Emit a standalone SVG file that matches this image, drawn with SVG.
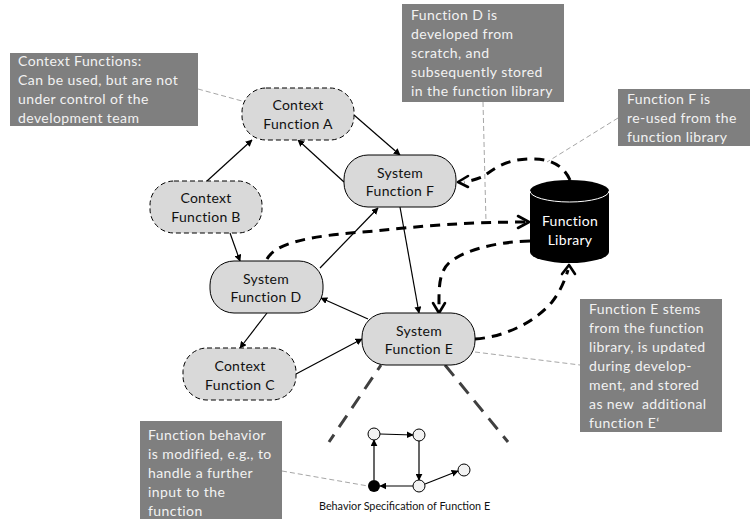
<svg xmlns="http://www.w3.org/2000/svg" width="750" height="519" viewBox="0 0 750 519">
<style>
text{font-family:Lato,"Liberation Sans",sans-serif}
.n text{font-size:14px;fill:#111;text-anchor:middle;letter-spacing:.3px}
.c rect{fill:#7f7f7f}
.c text{font-size:14px;fill:#f2f2f2;letter-spacing:.42px}
.ctx{fill:#d9d9d9;stroke:#000;stroke-width:1;stroke-dasharray:5 3}
.sys{fill:#d9d9d9;stroke:#000;stroke-width:1}
.a{fill:none;stroke:#000;stroke-width:1.2;marker-end:url(#tri)}
.d{fill:none;stroke:#000;stroke-width:3;stroke-dasharray:10 7}
.o{fill:none;stroke:#000;stroke-width:2.6;stroke-linecap:round;stroke-linejoin:round}
.g{fill:none;stroke:#a6a6a6;stroke-width:1;stroke-dasharray:5 3}
.k{fill:none;stroke:#404040;stroke-width:3;stroke-dasharray:14 9}
.s{fill:#f2f2f2;stroke:#000;stroke-width:1}
</style>
<defs>
<marker id="tri" viewBox="0 0 10 10" refX="9" refY="5" markerWidth="7" markerHeight="7" markerUnits="userSpaceOnUse" orient="auto"><path d="M0 0L10 5L0 10z" fill="#000"/></marker>
</defs>
<g id="connectors">
<path class="g" d="M198 89L242 101M483 102L486 222M618 118L547 162M475 352L580 365M282 471L368 486"/>
<path class="a" d="M354 115L400 155"/>
<path class="a" d="M207 181L252 140"/>
<path class="a" d="M344 182L298 140"/>
<path class="a" d="M230 233L240 261"/>
<path class="a" d="M320 268L378 208"/>
<path class="a" d="M267 313L240 348"/>
<path class="a" d="M368 319L321 298"/>
<path class="a" d="M296 374L362 339"/>
<path class="a" d="M400 207L419 313"/>
<path class="d" d="M570 180C562 162 545 158 528 159C505 160 495 168 484 176Q476 180 464 182"/>
<path class="o" d="M468 176L458 182L468 187"/>
<path class="d" d="M267 259C275 245 300 236 375 231C420 226 470 222 525 222"/>
<path class="o" d="M518 216L529 222L518 228"/>
<path class="d" d="M530 241C495 242 465 250 450 262C438 272 439 290 439 309"/>
<path class="o" d="M433 303L439 313L445 303"/>
<path class="d" d="M475 339C505 337 535 322 552 302C560 292 565 280 568 270"/>
<path class="o" d="M562 274L569 265L575 274"/>
<path class="k" stroke-dashoffset="8" d="M381 365L329 442"/>
<path class="k" d="M445 365L508 442"/>
<path class="a" d="M380 434L413 435"/>
<path class="a" d="M419 441L419 480"/>
<path class="a" d="M413 486L380 486"/>
<path class="a" d="M374 480L374 440"/>
<path class="a" d="M425 484L458 471"/>
</g>
<g id="context-a" class="n"><rect class="ctx" x="242" y="88" width="112" height="52" rx="24"/><text x="298" y="110">Context</text><text x="298" y="129">Function A</text></g>
<g id="context-b" class="n"><rect class="ctx" x="150" y="181" width="112" height="52" rx="24"/><text x="206" y="203">Context</text><text x="206" y="222">Function B</text></g>
<g id="context-c" class="n"><rect class="ctx" x="183" y="348" width="113" height="52" rx="24"/><text x="240" y="371">Context</text><text x="240" y="390">Function C</text></g>
<g id="system-f" class="n"><rect class="sys" x="344" y="155" width="112" height="52" rx="24"/><text x="400" y="178">System</text><text x="400" y="196">Function F</text></g>
<g id="system-d" class="n"><rect class="sys" x="210" y="261" width="113" height="52" rx="24"/><text x="266" y="284">System</text><text x="266" y="302">Function D</text></g>
<g id="system-e" class="n"><rect class="sys" x="362" y="313" width="113" height="52" rx="24"/><text x="419" y="336">System</text><text x="419" y="354">Function E</text></g>
<g id="library"><path d="M530 191V252A39.500 11 0 0 0 609 252V191A39.500 11 0 0 0 530 191Z" fill="#000"/><path d="M530 191A39.500 11 0 0 0 609 191" fill="none" stroke="#fff" stroke-width="1"/><text x="570" y="226" font-size="14" fill="#fff" text-anchor="middle" letter-spacing=".3">Function</text><text x="570" y="245" font-size="14" fill="#fff" text-anchor="middle" letter-spacing=".3">Library</text></g>
<g id="note-context" class="c"><rect x="10" y="53" width="188" height="73"/><text x="18" y="66">Context Functions:</text><text x="18" y="85">Can be used, but are not</text><text x="18" y="104">under control of the</text><text x="18" y="123">development team</text></g>
<g id="note-d" class="c"><rect x="402" y="4" width="162" height="98"/><text x="411" y="20">Function D is</text><text x="411" y="39">developed from</text><text x="411" y="58">scratch, and</text><text x="411" y="77">subsequently stored</text><text x="411" y="96">in the function library</text></g>
<g id="note-f" class="c"><rect x="618" y="89" width="132" height="57"/><text x="627" y="104">Function F is</text><text x="627" y="123">re-used from the</text><text x="627" y="142">function library</text></g>
<g id="note-e" class="c"><rect x="580" y="299" width="142" height="133"/><text x="589" y="314">Function E stems</text><text x="589" y="333">from the function</text><text x="589" y="352">library, is updated</text><text x="589" y="371">during develop-</text><text x="589" y="390">ment, and stored</text><text x="589" y="409" xml:space="preserve">as new  additional</text><text x="589" y="428">function E‘</text></g>
<g id="note-behavior" class="c"><rect x="140" y="421" width="142" height="98"/><text x="148" y="440">Function behavior</text><text x="148" y="459">is modified, e.g., to</text><text x="148" y="478">handle a further</text><text x="148" y="497">input to the</text><text x="148" y="516">function</text></g>
<g id="behavior"><circle class="s" cx="374" cy="434" r="6"/><circle class="s" cx="419" cy="435" r="6"/><circle class="s" cx="419" cy="486" r="6"/><circle cx="374" cy="486" r="6" fill="#000"/><circle class="s" cx="464" cy="470" r="6"/><text x="319" y="510" font-size="10.800" fill="#111">Behavior Specification of Function E</text></g>
</svg>
